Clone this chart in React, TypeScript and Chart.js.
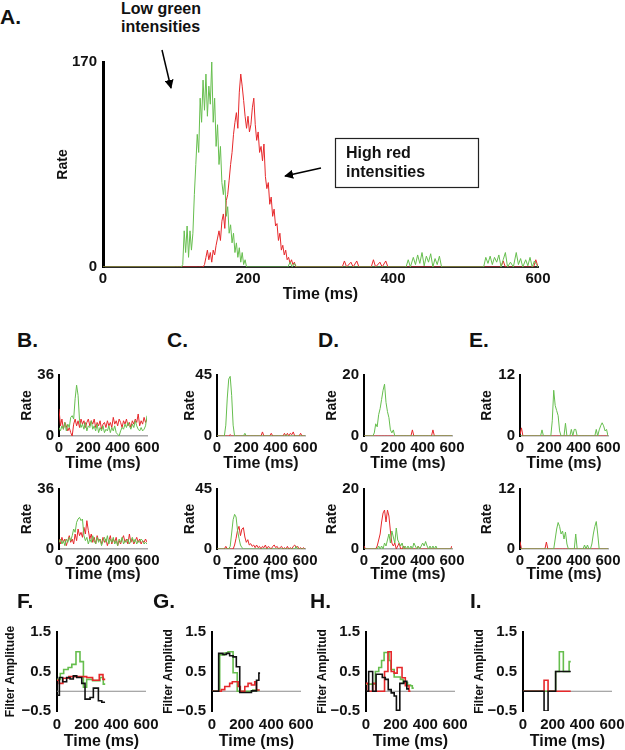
import React, { useEffect, useRef } from 'react';
import { Chart, registerables } from 'chart.js';

Chart.register(...registerables);

const FONT = '"Liberation Sans", Arial, Helvetica, sans-serif';
const GREEN = '#66be4e';
const RED = '#e6282b';
const BLACK = '#111111';
const ZERO_GRAY = '#8c8c8c';

// ---------------- Panel A (rate, 0-170) ----------------
const A_Y_MAX = 170;
const A_GREEN_START = 100; // ms, 2 ms bins
const aGreenMain = [
  0, 0, 0, 0, 0, 2, 30, 12, 34, 8,
  30, 14, 28, 60, 85, 110, 95, 140, 120, 155,
  130, 160, 125, 150, 135, 170, 120, 140, 100, 118,
  85, 100, 70, 60, 72, 42, 50, 28, 35, 20,
  28, 12, 20, 8, 16, 4, 12, 2, 6, 0, 0,
];
const A_RED_START = 130; // ms, 2 ms bins
const aRedMain = [
  0, 0, 0, 0, 0, 2, 8, 14, 6, 12,
  4, 14, 10, 18, 24, 30, 22, 38, 44, 32,
  55, 60, 72, 85, 95, 110, 120, 128, 115, 145,
  160, 150, 138, 125, 115, 125, 112, 118, 132, 140,
  118, 105, 112, 95, 100, 88, 102, 75, 65, 70,
  52, 58, 42, 48, 34, 36, 22, 28, 14, 18,
  10, 14, 6, 8, 3, 6, 2, 4, 0,
];
const aGreenTailT = [255, 258, 261, 264, 267, 418, 421, 424, 428, 431, 434, 437, 440, 443, 446, 449, 452, 455, 458, 461, 464, 467,
  525, 528, 531, 534, 537, 540, 543, 546, 549, 552, 555, 558, 562, 566, 570, 573, 576, 579, 583, 586, 589, 592, 595, 598, 600];
const aGreenTailV = [0, 4, 0, 3, 0, 0, 6, 0, 8, 2, 10, 3, 12, 1, 9, 4, 11, 0, 7, 2, 9, 0,
  0, 8, 3, 9, 2, 8, 4, 10, 0, 6, 12, 0, 4, 0, 12, 2, 7, 0, 6, 1, 8, 0, 5, 2, 0];
const aRedTailT = [330, 333, 336, 342, 345, 350, 353, 370, 373, 376, 382, 385, 390, 393, 549, 552, 555, 594, 597, 600];
const aRedTailV = [0, 5, 0, 4, 0, 5, 0, 0, 6, 0, 4, 0, 5, 0, 0, 5, 0, 0, 6, 0];

// ---------------- Panels B-E (rate, 10 ms bins, 0-600 ms) ----------------
const BIN_MS = 10;
const bTopGreen = [5, 3, 6, 4, 8, 3, 7, 5, 11, 12, 10, 22, 30, 24, 9, 5, 7, 4, 8, 3, 6, 5, 9, 4, 6, 3, 7, 2, 5, 3, 6, 2, 4, 3, 6, 2, 5, 3, 6, 2, 1, 0, 3, 5, 4, 7, 5, 8, 6, 4, 7, 5, 9, 6, 4, 3, 5, 3, 4, 6, 12];
const bTopRed = [16, 6, 10, 4, 8, 6, 3, 5, 2, 0, 7, 10, 6, 9, 5, 10, 7, 9, 5, 8, 10, 6, 9, 7, 10, 5, 8, 6, 9, 4, 7, 8, 5, 9, 6, 8, 5, 11, 7, 9, 6, 10, 8, 5, 9, 7, 10, 6, 8, 5, 9, 7, 10, 8, 13, 6, 9, 7, 11, 8, 10];
const bBotGreen = [4, 6, 3, 5, 2, 6, 4, 7, 5, 8, 12, 10, 16, 18, 19, 17, 18, 8, 5, 7, 3, 6, 4, 8, 5, 3, 7, 4, 6, 2, 5, 7, 4, 8, 3, 6, 4, 7, 3, 5, 2, 6, 4, 7, 3, 5, 4, 6, 3, 5, 7, 4, 6, 3, 5, 4, 6, 5, 3, 4, 3];
const bBotRed = [6, 3, 7, 4, 6, 2, 5, 8, 4, 6, 3, 9, 5, 12, 8, 10, 7, 13, 9, 17, 11, 6, 9, 4, 7, 3, 8, 5, 6, 3, 7, 4, 6, 2, 5, 8, 3, 6, 4, 7, 2, 5, 3, 6, 8, 4, 6, 3, 9, 4, 6, 3, 5, 7, 4, 6, 3, 5, 4, 6, 4];

const cTopGreen = [0, 0, 0, 0, 0, 0, 8, 28, 42, 44, 30, 8, 0, 0, 0, 0, 0, 0, 0, 2, 0, 0, 0, 0, 0, 0, 0, 0, 0, 0, 0, 0, 0, 0, 0, 0, 0, 0, 0, 0, 0, 0, 0, 0, 0, 0, 0, 1, 0, 0, 0, 0, 0, 0, 0, 0, 0, 0, 0, 0, 0];
const cTopRed = [0, 0, 0, 0, 0, 0, 0, 0, 0, 1, 0, 0, 0, 0, 0, 0, 0, 0, 0, 0, 0, 0, 0, 0, 0, 0, 0, 0, 0, 0, 0, 3, 0, 0, 0, 0, 0, 2, 0, 0, 0, 0, 0, 0, 0, 0, 2, 0, 2, 0, 2, 1, 3, 0, 0, 0, 0, 2, 0, 0, 0];
const cBotGreen = [0, 0, 0, 0, 0, 0, 0, 0, 0, 2, 12, 22, 26, 24, 14, 8, 3, 1, 0, 0, 0, 0, 0, 0, 0, 0, 0, 0, 0, 0, 0, 0, 0, 0, 0, 0, 0, 0, 0, 0, 0, 0, 0, 0, 0, 0, 0, 0, 0, 0, 0, 0, 0, 0, 2, 0, 0, 0, 0, 0, 0];
const cBotRed = [0, 0, 0, 0, 0, 0, 2, 0, 0, 0, 0, 0, 3, 8, 14, 17, 10, 15, 16, 9, 5, 7, 3, 4, 2, 3, 1, 3, 1, 2, 0, 2, 1, 3, 0, 2, 1, 0, 2, 3, 1, 2, 0, 1, 2, 0, 1, 0, 2, 0, 1, 0, 2, 3, 1, 2, 0, 1, 0, 1, 0];

const dTopGreen = [0, 0, 0, 0, 0, 0, 0, 1, 4, 3, 7, 9, 12, 15, 17, 11, 8, 6, 2, 1, 2, 0, 0, 0, 0, 0, 0, 0, 0, 0, 0, 0, 0, 0, 0, 0, 0, 0, 0, 0, 0, 0, 0, 0, 0, 0, 0, 0, 0, 0, 0, 0, 0, 0, 0, 0, 0, 0, 0, 0, 0];
const dTopRed = [0, 0, 0, 0, 0, 0, 0, 0, 0, 0, 0, 0, 0, 0, 0, 0, 0, 0, 0, 0, 0, 0, 0, 0, 0, 0, 0, 0, 0, 0, 0, 0, 0, 2, 0, 0, 0, 0, 0, 0, 0, 0, 0, 0, 0, 0, 0, 2, 0, 0, 0, 0, 0, 0, 0, 0, 0, 0, 0, 0, 0];
const dBotGreen = [0, 0, 0, 0, 0, 0, 0, 0, 0, 0, 1, 0, 1, 0, 2, 1, 3, 5, 2, 6, 4, 2, 7, 3, 2, 1, 2, 0, 1, 0, 1, 0, 1, 0, 2, 1, 0, 1, 0, 1, 2, 1, 2.5, 1, 0, 1, 0, 1, 0, 1, 0, 0, 0, 0, 0, 0, 0, 0, 0, 0, 0];
const dBotRed = [1, 0, 0, 0, 0, 0, 0, 0, 0, 1, 3, 5, 9, 12, 13, 9, 13, 11, 6, 2, 1, 2, 0, 1, 2, 0, 0, 1, 0, 0, 0, 0, 0, 0, 0, 0, 0, 1, 0, 0, 0, 0, 0, 0, 0, 0, 0, 0, 0, 0, 0, 0, 0, 0, 0, 0, 0, 0, 0, 0, 1];

const eTopGreen = [0, 0, 0, 0, 0, 0, 0, 0, 0, 0, 0, 0, 0, 0, 0, 1.2, 0, 0, 0, 0, 0, 0, 3, 9, 6, 5, 4, 1, 0, 0, 0, 2.5, 0, 0, 0, 1.3, 0, 1.3, 1.3, 0, 0, 0, 0, 0, 0, 0, 0, 0, 0, 0, 0, 0, 1.3, 0, 1.2, 2, 2.6, 2, 1, 1.3, 0];
const eTopRed = [0.3, 1.6, 0, 0, 0, 0, 0, 0, 0, 0, 0, 0, 0, 0, 0, 0, 0, 0, 0, 0, 0, 0, 0, 0, 0, 0, 0, 0, 0, 0, 0, 0, 0, 0, 0, 0, 0, 0, 0, 0, 0, 0, 0, 0, 0, 0, 0, 0, 0, 0, 0, 0, 0, 0, 0, 0, 0, 0, 0, 0, 0];
const eBotGreen = [0, 0, 0, 0, 0, 0, 0, 0, 0, 0, 0, 0, 0, 0, 0, 0, 0, 0, 0, 0, 0, 0, 0, 0, 2, 4, 5.3, 4.5, 3, 3.6, 2, 3.4, 1, 0, 0, 0, 0, 0, 3, 0, 0, 0, 0, 0, 0.8, 0, 0.8, 0, 0, 1, 3, 4.5, 5.5, 3, 0, 0, 0, 0, 0, 0, 0];
const eBotRed = [1.5, 0, 0, 0, 0, 0, 0, 0, 0, 0, 0, 0, 0, 0, 0, 0, 0, 0, 1.4, 0, 0, 0, 0, 0, 0, 0, 0, 0, 0, 0, 0, 0, 0, 0, 0, 0, 0, 0, 0, 0, 0, 0, 0, 0, 0, 0, 0, 0, 0, 0, 0, 0, 0, 0, 0, 0, 0, 0, 0, 0, 0];

// ---------------- Panels F-I (filter amplitude, step functions) ----------------
const fGreenT = [0, 22, 45, 75, 100, 128, 155, 178, 200, 240, 290, 312, 325];
const fGreenV = [0.3, 0.45, 0.55, 0.6, 0.68, 1.0, 0.75, 0.1, 0.3, 0.27, 0.35, 0.18, 0.18];
const fRedT = [0, 15, 40, 80, 200, 240, 285, 310, 325];
const fRedV = [0.28, 0.2, 0.33, 0.37, 0.35, 0.28, 0.42, 0.3, 0.3];
const fBlackT = [0, 16, 38, 65, 88, 110, 133, 167, 189, 223, 245, 279, 302, 324];
const fBlackV = [-0.1, 0.35, 0.24, 0.35, 0.31, 0.39, 0.35, 0.2, -0.2, -0.16, 0.08, -0.24, -0.28, -0.28];

const gGreenT = [0, 52, 85, 108, 142, 170, 275, 300, 320];
const gGreenV = [0, 0.92, 0.97, 1.0, 0.47, 0, 0.03, 0.02, 0.02];
const gRedT = [0, 63, 86, 119, 137, 176, 191, 221, 243, 266, 288, 300, 322];
const gRedV = [0, 0.04, 0.12, 0.2, 0.24, 0.12, 0, 0.12, 0.2, 0.16, 0.24, 0.03, 0.03];
const gBlackT = [0, 45, 74, 97, 119, 142, 164, 187, 266, 300, 316, 324];
const gBlackV = [0, 0.96, 0.93, 0.96, 0.9, 0.87, 0.62, -0.03, 0.01, 0.28, 0.46, 0.46];

const hGreenT = [0, 40, 63, 86, 105, 122, 155, 168, 190, 232, 250, 280, 300, 312, 322];
const hGreenV = [0.18, 0.18, 0.5, 0.6, 0.78, 0.98, 0.78, 0.55, 0.36, 0.3, 0.22, 0.16, 0.14, 0.08, 0.08];
const hRedT = [0, 15, 45, 65, 125, 148, 170, 190, 210, 243, 265, 290, 300];
const hRedV = [0.2, 0, 0.2, 0, 0.5, 1.0, 0.5, 0.46, 0.6, 0.34, 0.14, 0, 0];
const hBlackT = [0, 18, 45, 68, 110, 130, 150, 170, 190, 205, 228, 255, 275, 290];
const hBlackV = [0, 0.5, 0, 0.43, 0.35, 0.3, 0.04, -0.04, -0.12, -0.48, 0.2, 0.25, 0.06, 0.06];

const iGreenT = [0, 220, 245, 272, 311, 322];
const iGreenV = [0, 0.5, 1.0, 0.5, 0.75, 0.75];
const iRedT = [0, 142, 169, 322];
const iRedV = [0, 0.28, 0, 0];
const iBlackT = [0, 142, 169, 220, 322];
const iBlackV = [0, -0.5, 0, 0.5, 0.5];

const zeroLineT = [0, 600];
const zeroLineV = [0, 0];

const X_MAX = 600;
const X_TICK_STEP = 200;
const FILTER_TICKS = [-0.5, 0, 0.5, 1, 1.5];

// ---------------- helpers ----------------
type Pt = { x: number; y: number };
const binned = (start: number, step: number, vals: number[]): Pt[] => vals.map((v, i) => ({ x: start + i * step, y: v }));
const pairs = (t: number[], v: number[]): Pt[] => t.map((x, i) => ({ x, y: v[i] }));

interface Geom { l: number; t: number; r: number; b: number; yW: number; padT: number; padR: number; xH: number; }
interface Series { pts: Pt[]; color: string; stepped?: boolean; width?: number; }
interface Panel {
  geom: Geom;
  yMin: number; yMax: number; yTicks: number[];
  yTitle: string; yTitleSize: number; yTitleCx: number;
  xTitleCy: number; xTickCy: number; tickSize: number; yTickPad: number;
  yBorderW: number; xBorder: { w: number; color: string } | null;
  lineW: number;
  series: Series[];
}

const canvasRect = (g: Geom) => ({
  left: g.l - g.yW,
  top: g.t - g.padT,
  w: g.yW + (g.r - g.l) + g.padR,
  h: g.padT + (g.b - g.t) + g.xH,
});

const fmt = (v: number) => (v < 0 ? '\u2212' + String(Math.abs(v)) : String(v));

function buildChart(canvas: HTMLCanvasElement, p: Panel) {
  const g = p.geom;
  const rc = canvasRect(g);
  const bottom = rc.top + rc.h;
  const tickFont = { family: FONT, size: p.tickSize, weight: 'bold' as const };
  const yTitlePad = Math.max(0, p.yTitleCx - rc.left - 0.6 * p.yTitleSize);
  const xTitlePad = Math.max(0, bottom - p.xTitleCy - 0.6 * 16);
  const xTickPad = Math.max(0, p.xTickCy - g.b - 0.6 * p.tickSize);
  return new Chart(canvas, {
    type: 'line',
    data: {
      datasets: p.series.map((s) => ({
        data: s.pts,
        borderColor: s.color,
        backgroundColor: s.color,
        borderWidth: s.width ?? p.lineW,
        pointRadius: 0,
        fill: false,
        tension: 0,
        stepped: s.stepped ? ('before' as const) : false,
      })),
    },
    options: {
      responsive: false,
      animation: false,
      events: [],
      layout: { padding: { left: 0, top: g.padT, right: g.padR, bottom: 0 } },
      plugins: { legend: { display: false }, tooltip: { enabled: false } },
      scales: {
        x: {
          type: 'linear',
          min: 0,
          max: X_MAX,
          grid: { display: false, drawTicks: false },
          border: p.xBorder ? { display: true, color: p.xBorder.color, width: p.xBorder.w } : { display: false },
          ticks: { stepSize: X_TICK_STEP, autoSkip: false, maxRotation: 0, minRotation: 0, padding: xTickPad, color: '#111', font: tickFont },
          title: { display: true, text: 'Time (ms)', color: '#111', font: { family: FONT, size: 16, weight: 'bold' }, padding: { top: 0, bottom: xTitlePad } },
          afterFit: (sc: any) => { sc.height = g.xH; },
        },
        y: {
          type: 'linear',
          min: p.yMin,
          max: p.yMax,
          grid: { display: false, drawTicks: false },
          border: { display: true, color: '#000', width: p.yBorderW },
          afterBuildTicks: (sc: any) => { sc.ticks = p.yTicks.map((v) => ({ value: v })); },
          ticks: { padding: p.yTickPad, color: '#111', font: tickFont, callback: (v: any) => fmt(Number(v)) },
          title: { display: true, text: p.yTitle, color: '#111', font: { family: FONT, size: p.yTitleSize, weight: 'bold' }, padding: { top: yTitlePad, bottom: 0 } },
          afterFit: (sc: any) => { sc.width = g.yW; },
        },
      },
    },
  } as any);
}

// ---------------- layout ----------------
const RATE_COLS = [
  { l: 59, cx: 27 },
  { l: 217, cx: 190 },
  { l: 364, cx: 332 },
  { l: 520, cx: 487 },
];
const RATE_W = 88;
const RATE_ROWS = [
  { t: 371, b: 436, tickCy: 448, titleCy: 464 },
  { t: 485, b: 549, tickCy: 561, titleCy: 575 },
];
const FILT_COLS = [
  { l: 57, cx: 11, title: 'Filter Amplitude' },
  { l: 212, cx: 169, title: 'Filter Amplitud' },
  { l: 366, cx: 323, title: 'Filter Amplitud' },
  { l: 523, cx: 480, title: 'Filter Amplitud' },
];
const FILT_W = 89;

const rateData: { max: number; rows: [number[], number[]][] }[] = [
  { max: 36, rows: [[bTopGreen, bTopRed], [bBotGreen, bBotRed]] },
  { max: 45, rows: [[cTopGreen, cTopRed], [cBotGreen, cBotRed]] },
  { max: 20, rows: [[dTopGreen, dTopRed], [dBotGreen, dBotRed]] },
  { max: 12, rows: [[eTopGreen, eTopRed], [eBotGreen, eBotRed]] },
];
const filtData: [number[], number[], number[], number[], number[], number[]][] = [
  [fBlackT, fBlackV, fRedT, fRedV, fGreenT, fGreenV],
  [gBlackT, gBlackV, gRedT, gRedV, gGreenT, gGreenV],
  [hBlackT, hBlackV, hRedT, hRedV, hGreenT, hGreenV],
  [iBlackT, iBlackV, iRedT, iRedV, iGreenT, iGreenV],
];

const PANELS: Panel[] = [];

PANELS.push({
  geom: { l: 103, t: 59, r: 538, b: 267, yW: 63, padT: 12, padR: 30, xH: 40 },
  yMin: 0, yMax: A_Y_MAX, yTicks: [0, A_Y_MAX],
  yTitle: 'Rate', yTitleSize: 14, yTitleCx: 63,
  xTitleCy: 295, xTickCy: 279, tickSize: 15, yTickPad: 6,
  yBorderW: 3, xBorder: { w: 2, color: '#2a2a2a' }, lineW: 1,
  series: [
    { pts: [{ x: 0, y: 0 }, ...binned(A_GREEN_START, 2, aGreenMain), ...pairs(aGreenTailT, aGreenTailV)], color: GREEN },
    { pts: [{ x: 0, y: 0 }, ...binned(A_RED_START, 2, aRedMain), ...pairs(aRedTailT, aRedTailV)], color: RED },
  ],
});

RATE_ROWS.forEach((row, ri) => {
  RATE_COLS.forEach((col, ci) => {
    const d = rateData[ci];
    const [gv, rv] = d.rows[ri];
    PANELS.push({
      geom: { l: col.l, t: row.t, r: col.l + RATE_W, b: row.b, yW: 50, padT: 10, padR: 20, xH: 40 },
      yMin: 0, yMax: d.max, yTicks: [0, d.max],
      yTitle: 'Rate', yTitleSize: 14, yTitleCx: col.cx,
      xTitleCy: row.titleCy, xTickCy: row.tickCy, tickSize: 15, yTickPad: 5,
      yBorderW: 2, xBorder: { w: 1.5, color: '#a8a8a8' }, lineW: 1,
      series: [
        { pts: binned(0, BIN_MS, gv), color: GREEN },
        { pts: binned(0, BIN_MS, rv), color: RED },
      ],
    });
  });
});

FILT_COLS.forEach((col, ci) => {
  const [kt, kv, rt, rv, gt, gv] = filtData[ci];
  PANELS.push({
    geom: { l: col.l, t: 627, r: col.l + FILT_W, b: 711, yW: 55, padT: 10, padR: 20, xH: 42 },
    yMin: -0.5, yMax: 1.5, yTicks: FILTER_TICKS,
    yTitle: col.title, yTitleSize: 12, yTitleCx: col.cx,
    xTitleCy: 742, xTickCy: 725, tickSize: 15, yTickPad: 6,
    yBorderW: 2, xBorder: null, lineW: 1.6,
    series: [
      { pts: pairs(kt, kv), color: BLACK, stepped: true },
      { pts: pairs(rt, rv), color: RED, stepped: true },
      { pts: pairs(gt, gv), color: GREEN, stepped: true },
      { pts: pairs(zeroLineT, zeroLineV), color: ZERO_GRAY, width: 1 },
    ],
  });
});

const LETTERS = [
  { s: 'A.', x: 0, y: 6 },
  { s: 'B.', x: 17, y: 329 },
  { s: 'C.', x: 167, y: 329 },
  { s: 'D.', x: 318, y: 329 },
  { s: 'E.', x: 469, y: 329 },
  { s: 'F.', x: 17, y: 590 },
  { s: 'G.', x: 153, y: 590 },
  { s: 'H.', x: 310, y: 590 },
  { s: 'I.', x: 470, y: 590 },
];

export default function App() {
  const refs = useRef<(HTMLCanvasElement | null)[]>([]);
  useEffect(() => {
    const charts = PANELS.map((p, i) => buildChart(refs.current[i] as HTMLCanvasElement, p));
    return () => charts.forEach((c) => c.destroy());
  }, []);
  return (
    <div style={{ position: 'absolute', left: 0, top: 0, width: 625, height: 750, overflow: 'hidden', background: '#fff', fontFamily: FONT, color: '#111' }}>
      {PANELS.map((p, i) => {
        const rc = canvasRect(p.geom);
        return (
          <canvas
            key={i}
            ref={(el) => { refs.current[i] = el; }}
            width={rc.w}
            height={rc.h}
            style={{ position: 'absolute', left: rc.left, top: rc.top, width: rc.w, height: rc.h }}
          />
        );
      })}
      {LETTERS.map((l) => (
        <div key={l.s} style={{ position: 'absolute', left: l.x, top: l.y, fontSize: 21, lineHeight: '21px', fontWeight: 'bold' }}>{l.s}</div>
      ))}
      <div style={{ position: 'absolute', left: 121, top: 0, fontSize: 16, lineHeight: '18px', fontWeight: 'bold' }}>
        Low green<br />intensities
      </div>
      <div style={{ position: 'absolute', left: 346, top: 143, fontSize: 16, lineHeight: '19px', fontWeight: 'bold' }}>
        High red<br />intensities
      </div>
      <svg width={625} height={750} style={{ position: 'absolute', left: 0, top: 0, pointerEvents: 'none' }}>
        <defs>
          <marker id="ah" viewBox="0 0 10 10" refX="9" refY="5" markerWidth="6" markerHeight="6" orient="auto">
            <path d="M0,0 L10,5 L0,10 z" fill="#000" />
          </marker>
        </defs>
        <line x1={162} y1={50} x2={171} y2={88} stroke="#000" strokeWidth={1.5} markerEnd="url(#ah)" />
        <line x1={321} y1={168} x2={285} y2={176} stroke="#000" strokeWidth={1.5} markerEnd="url(#ah)" />
        <rect x={335.5} y={138.5} width={143} height={49} fill="none" stroke="#222" strokeWidth={1.2} />
      </svg>
    </div>
  );
}
